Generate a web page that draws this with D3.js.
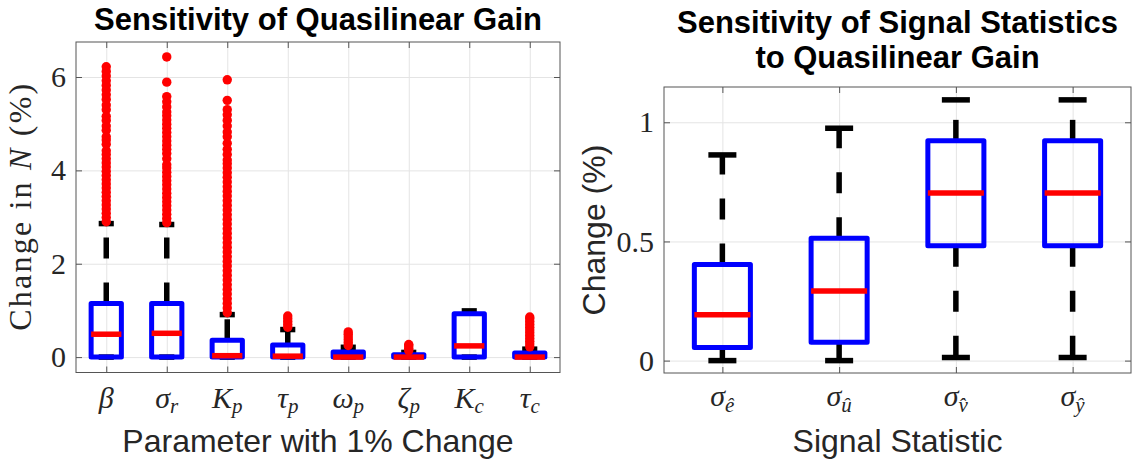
<!DOCTYPE html>
<html>
<head>
<meta charset="utf-8">
<script src="https://cdn.jsdelivr.net/npm/d3@7"></script>
<style>
  body { margin: 0; background: #fff; }
  svg { display: block; }
</style>
</head>
<body>
<div id="chart"></div>
<script>
// Left panel: change in N for a 1% change of each parameter
const paramMain = ['β', 'σ', 'K', 'τ', 'ω', 'ζ', 'K', 'τ']
const paramSub = ['', 'r', 'p', 'p', 'p', 'p', 'c', 'c']
const paramLower = [0, 0, 0, 0, 0, 0, 0, 0]
const paramQ1 = [0, 0, 0, 0, 0, 0, 0, 0]
const paramMedian = [0.49, 0.51, 0.03, 0.02, 0.0, 0.0, 0.24, 0.0]
const paramQ3 = [1.15, 1.15, 0.36, 0.26, 0.11, 0.05, 0.93, 0.09]
const paramUpper = [2.86, 2.84, 0.91, 0.59, 0.21, 0.10, 0.99, 0.17]
const paramOutliers = [
  [2.90, 2.99, 3.08, 3.17, 3.26, 3.35, 3.44, 3.53, 3.62, 3.71, 3.80, 3.89, 3.98, 4.07, 4.16, 4.25,
   4.34, 4.42, 4.56, 4.65, 4.72, 4.86, 4.95, 5.07, 5.16, 5.30, 5.40, 5.52, 5.62, 5.72, 5.82, 5.92,
   6.02, 6.12, 6.22],
  [2.88, 2.97, 3.06, 3.15, 3.24, 3.33, 3.42, 3.51, 3.60, 3.69, 3.78, 3.87, 3.96, 4.05, 4.12, 4.25,
   4.36, 4.45, 4.54, 4.63, 4.72, 4.81, 4.90, 4.99, 5.08, 5.17, 5.25, 5.36, 5.47, 5.58, 5.89, 6.43],
  [0.95, 1.05, 1.15, 1.25, 1.35, 1.45, 1.55, 1.65, 1.75, 1.85, 1.95, 2.05, 2.15, 2.25, 2.35, 2.45,
   2.55, 2.65, 2.75, 2.85, 2.95, 3.05, 3.15, 3.25, 3.35, 3.45, 3.55, 3.65, 3.75, 3.85, 3.95, 4.05,
   4.14, 4.22, 4.34, 4.45, 4.58, 4.72, 4.82, 4.95, 5.07, 5.19, 5.30, 5.50, 5.94],
  [0.64, 0.70, 0.76, 0.82, 0.88],
  [0.25, 0.31, 0.37, 0.43, 0.49, 0.54],
  [0.14, 0.19, 0.24, 0.27],
  [],
  [0.22, 0.28, 0.34, 0.40, 0.46, 0.52, 0.58, 0.64, 0.70, 0.76, 0.82, 0.86]
]
const paramTicksY = [0, 2, 4, 6]

// Right panel: change of the signal statistics
const signalMain = ['σ', 'σ', 'σ', 'σ']
const signalSub = ['ê', 'û', 'v̂', 'ŷ']
const signalLower = [0.0, 0.0, 0.013, 0.013]
const signalQ1 = [0.055, 0.077, 0.482, 0.482]
const signalMedian = [0.192, 0.292, 0.703, 0.703]
const signalQ3 = [0.403, 0.513, 0.922, 0.922]
const signalUpper = [0.863, 0.975, 1.094, 1.094]
const signalOutliers = [[], [], [], []]
const signalTicksY = [0, 0.5, 1]

const sans = '"Liberation Sans", Arial, Helvetica, sans-serif'
const serif = '"Liberation Serif", "Times New Roman", serif'
const textColor = '#262626'

const svg = d3.select('#chart')
  .append('svg')
  .attr('width', 1142)
  .attr('height', 464)

function drawPanel(cfg) {
  const n = cfg.main.length
  const cats = d3.range(1, n + 1)
  const h = cfg.y1 - cfg.y0
  const w = cfg.x1 - cfg.x0

  const xScale = d3.scaleLinear().domain([0.5, n + 0.5]).range([cfg.x0, cfg.x1])
  const yScale = d3.scaleLinear().domain(cfg.yDomain).range([cfg.y1, cfg.y0])

  const g = svg.append('g')

  // grid
  g.append('g')
    .attr('transform', `translate(0,${cfg.y1})`)
    .call(d3.axisBottom(xScale).tickValues(cats).tickSize(-h).tickFormat(''))
    .call(s => s.select('.domain').remove())
    .selectAll('line').attr('stroke', '#e4e4e4')
  g.append('g')
    .attr('transform', `translate(${cfg.x0},0)`)
    .call(d3.axisLeft(yScale).tickValues(cfg.yTicks).tickSize(-w).tickFormat(''))
    .call(s => s.select('.domain').remove())
    .selectAll('line').attr('stroke', '#e4e4e4')

  // inward ticks on all four sides
  const tick = 6
  const axes = [
    [d3.axisBottom(xScale).tickValues(cats), `translate(0,${cfg.y1})`],
    [d3.axisTop(xScale).tickValues(cats), `translate(0,${cfg.y0})`],
    [d3.axisRight(yScale).tickValues(cfg.yTicks), `translate(${cfg.x1},0)`]
  ]
  axes.forEach(([ax, tr]) => {
    g.append('g').attr('transform', tr)
      .call(ax.tickSize(-tick).tickFormat(''))
      .call(s => s.select('.domain').remove())
      .selectAll('line').attr('stroke', '#555')
  })
  const yAxis = g.append('g')
    .attr('transform', `translate(${cfg.x0},0)`)
    .call(d3.axisLeft(yScale).tickValues(cfg.yTicks).tickSize(-tick).tickPadding(10).tickFormat(cfg.yFormat))
    .call(s => s.select('.domain').remove())
    .attr('font-family', serif)
    .attr('font-size', 30)
  yAxis.selectAll('line').attr('stroke', '#555')
  yAxis.selectAll('text').attr('fill', textColor)

  g.append('rect')
    .attr('x', cfg.x0).attr('y', cfg.y0)
    .attr('width', w).attr('height', h)
    .attr('fill', 'none').attr('stroke', '#555').attr('stroke-width', 1)

  // category labels with subscripts
  g.selectAll('.cat')
    .data(cats)
    .join('text')
    .attr('x', d => xScale(d))
    .attr('y', cfg.tickBase)
    .attr('text-anchor', 'middle')
    .attr('font-family', serif)
    .attr('font-style', 'italic')
    .attr('font-size', 30)
    .attr('fill', textColor)
    .each(function (d, i) {
      const t = d3.select(this)
      t.append('tspan').text(cfg.main[i])
      if (cfg.sub[i]) t.append('tspan').attr('font-size', 21).attr('dy', cfg.subShift).text(cfg.sub[i])
    })

  // box plot marks
  const half = (xScale(1 + cfg.boxWidth / 2) - xScale(1))
  const capHalf = half / 2
  const marks = g.append('g')

  // whiskers: dashes start at the box end
  marks.selectAll('.up')
    .data(cats)
    .join('line')
    .attr('x1', d => xScale(d)).attr('x2', d => xScale(d))
    .attr('y1', (d, i) => yScale(cfg.q3[i]))
    .attr('y2', (d, i) => yScale(cfg.upper[i]))
    .attr('stroke', '#000').attr('stroke-width', 5.5)
    .attr('stroke-dasharray', '21,24')
  marks.selectAll('.low')
    .data(cats)
    .join('line')
    .attr('x1', d => xScale(d)).attr('x2', d => xScale(d))
    .attr('y1', (d, i) => yScale(cfg.q1[i]))
    .attr('y2', (d, i) => yScale(cfg.lower[i]))
    .attr('stroke', '#000').attr('stroke-width', 5.5)
    .attr('stroke-dasharray', '21,24')

  // caps
  const caps = cats.flatMap((d, i) => [[d, cfg.upper[i]], [d, cfg.lower[i]]])
  marks.selectAll('.cap')
    .data(caps)
    .join('line')
    .attr('x1', d => xScale(d[0]) - capHalf)
    .attr('x2', d => xScale(d[0]) + capHalf)
    .attr('y1', d => yScale(d[1]))
    .attr('y2', d => yScale(d[1]))
    .attr('stroke', '#000').attr('stroke-width', 5.5)

  // boxes
  marks.selectAll('.box')
    .data(cats)
    .join('rect')
    .attr('x', d => xScale(d) - half)
    .attr('width', 2 * half)
    .attr('y', (d, i) => yScale(cfg.q3[i]))
    .attr('height', (d, i) => yScale(cfg.q1[i]) - yScale(cfg.q3[i]))
    .attr('fill', 'none')
    .attr('stroke', '#0000ff').attr('stroke-width', 5)
    .attr('stroke-linejoin', 'round')

  // medians
  marks.selectAll('.med')
    .data(cats)
    .join('line')
    .attr('x1', d => xScale(d) - half)
    .attr('x2', d => xScale(d) + half)
    .attr('y1', (d, i) => yScale(cfg.median[i]))
    .attr('y2', (d, i) => yScale(cfg.median[i]))
    .attr('stroke', '#ff0000').attr('stroke-width', 5.5)

  // outliers
  const pts = cats.flatMap((d, i) => cfg.outliers[i].map(v => [d, v]))
  marks.selectAll('.out')
    .data(pts)
    .join('circle')
    .attr('cx', d => xScale(d[0]))
    .attr('cy', d => yScale(d[1]))
    .attr('r', 4.7)
    .attr('fill', '#ff0000')

  // axis labels
  const cx = (cfg.x0 + cfg.x1) / 2
  const cy = (cfg.y0 + cfg.y1) / 2
  g.append('text')
    .attr('x', cx).attr('y', 452)
    .attr('text-anchor', 'middle')
    .attr('font-family', sans).attr('font-size', 32)
    .attr('fill', textColor)
    .text(cfg.xLabel)

  const yl = g.append('text')
    .attr('transform', `translate(${cfg.yLabelX},${cy}) rotate(-90)`)
    .attr('text-anchor', 'middle')
    .attr('font-family', cfg.yLabelFont).attr('font-size', 32)
    .attr('fill', textColor)
  cfg.yLabel.forEach(part => {
    yl.append('tspan').attr('font-style', part[1] ? 'italic' : 'normal').text(part[0])
  })
  if (cfg.yLabelLength) yl.attr('textLength', cfg.yLabelLength).attr('lengthAdjust', 'spacing')

  // title lines
  cfg.title.forEach((line, k) => {
    g.append('text')
      .attr('x', cx).attr('y', cfg.titleBase + k * 35)
      .attr('text-anchor', 'middle')
      .attr('font-family', sans).attr('font-size', 31).attr('font-weight', 'bold')
      .attr('fill', '#000')
      .text(line)
  })
}

drawPanel({
  x0: 76, x1: 560, y0: 42, y1: 372.5,
  yDomain: [-0.33, 6.75],
  yTicks: paramTicksY,
  yFormat: d => d,
  main: paramMain, sub: paramSub,
  lower: paramLower, q1: paramQ1, median: paramMedian, q3: paramQ3, upper: paramUpper,
  outliers: paramOutliers,
  boxWidth: 0.5,
  tickBase: 408, subShift: 5,
  xLabel: 'Parameter with 1% Change',
  yLabel: [['Change in '], ['N', true], [' (%)']],
  yLabelFont: serif, yLabelX: 31, yLabelLength: 247,
  title: ['Sensitivity of Quasilinear Gain'],
  titleBase: 30
})

drawPanel({
  x0: 664, x1: 1131, y0: 87, y1: 373,
  yDomain: [-0.052, 1.148],
  yTicks: signalTicksY,
  yFormat: d => d,
  main: signalMain, sub: signalSub,
  lower: signalLower, q1: signalQ1, median: signalMedian, q3: signalQ3, upper: signalUpper,
  outliers: signalOutliers,
  boxWidth: 0.48,
  tickBase: 406, subShift: 6,
  xLabel: 'Signal Statistic',
  yLabel: [['Change (%)']],
  yLabelFont: sans, yLabelX: 605,
  title: ['Sensitivity of Signal Statistics', 'to Quasilinear Gain'],
  titleBase: 33
})
</script>
</body>
</html>
